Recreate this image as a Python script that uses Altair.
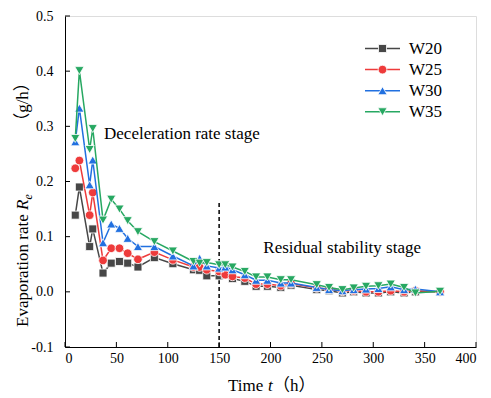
import altair as alt
import pandas as pd

# ---- data ----
t_hours = [10, 14, 24, 27, 37, 45, 53, 61, 71, 87, 105, 125, 131, 138, 150, 156,
           163, 175, 186, 197, 210, 220, 245, 257, 270, 281, 293, 305, 317, 330, 341, 365]
w20 = [0.139, 0.190, 0.082, 0.114, 0.034, 0.052, 0.055, 0.052, 0.045, 0.062, 0.051, 0.040,
       0.039, 0.029, 0.029, 0.031, 0.024, 0.019, 0.010, 0.010, 0.008, 0.012, 0.004, 0.002,
       -0.002, 0.000, -0.002, -0.002, 0.000, -0.002, 0.000, 0.000]
w25 = [0.224, 0.238, 0.139, 0.180, 0.057, 0.079, 0.079, 0.070, 0.059, 0.072, 0.058, 0.045,
       0.045, 0.040, 0.037, 0.031, 0.028, 0.025, 0.014, 0.014, 0.011, 0.015, 0.007, 0.005,
       0.001, 0.002, 0.000, 0.000, 0.002, 0.000, 0.002, 0.000]
w30 = [0.272, 0.333, 0.194, 0.239, 0.089, 0.123, 0.115, 0.097, 0.082, 0.082, 0.065, 0.047,
       0.061, 0.047, 0.043, 0.045, 0.040, 0.031, 0.021, 0.021, 0.016, 0.016, 0.008, 0.004,
       0.002, 0.004, 0.005, 0.006, 0.009, 0.004, 0.005, 0.000]
w35 = [0.278, 0.401, 0.258, 0.296, 0.130, 0.168, 0.150, 0.129, 0.109, 0.091, 0.074, 0.055,
       0.052, 0.053, 0.049, 0.049, 0.045, 0.037, 0.027, 0.027, 0.022, 0.022, 0.013, 0.008,
       0.004, 0.007, 0.010, 0.011, 0.014, 0.008, -0.002, 0.001]

series_names = ["W20", "W25", "W30", "W35"]
series_values = [w20, w25, w30, w35]
series_colors = ["#474747", "#ee3b3b", "#2170e0", "#27a862"]
series_shapes = ["square", "circle", "triangle-up", "triangle-down"]
series_sizes = [64, 75, 85, 85]

x_ticks = [0, 50, 100, 150, 200, 250, 300, 350, 400]
y_ticks = [-0.1, 0.0, 0.1, 0.2, 0.3, 0.4, 0.5]

divider_t = [150]
divider_top = [0.161]

notes = ["Deceleration rate stage", "Residual stability stage"]
note_t = [38, 193]
note_y = [0.286, 0.080]

# ---- build ----
rows = []
for name, vals in zip(series_names, series_values):
    for tt, v in zip(t_hours, vals):
        rows.append({"t": tt, "rate": v, "series": name})
df = pd.DataFrame(rows)

SERIF = "Liberation Serif"
W, H = 411, 331

xscale = alt.Scale(domain=[0, 400], nice=False, zero=False)
yscale = alt.Scale(domain=[-0.1, 0.5], nice=False, zero=False)
xaxis = alt.Axis(values=x_ticks, title=None, ticks=False, tickSize=0, grid=False,
                 labelFont=SERIF, labelFontSize=14, labelColor="black", labelPadding=4,
                 domainColor="black", domainWidth=1)
yaxis = alt.Axis(values=y_ticks, title=None, ticks=False, tickSize=0, grid=False,
                 format=".1f", labelExpr="replace(datum.label, '\u2212', '-')",
                 labelFont=SERIF, labelFontSize=14, labelColor="black", labelPadding=12,
                 domainColor="black", domainWidth=1)

X = alt.X("t:Q", scale=xscale, axis=xaxis)
Y = alt.Y("rate:Q", scale=yscale, axis=yaxis)

layers = []

# inward ticks
xt = alt.Chart(pd.DataFrame({"t": x_ticks})).mark_rule(color="black", strokeWidth=1).encode(
    x=X, y=alt.value(H), y2=alt.value(H - 5))
yt = alt.Chart(pd.DataFrame({"rate": y_ticks})).mark_rule(color="black", strokeWidth=1).encode(
    y=Y, x=alt.value(0), x2=alt.value(5))
layers += [xt, yt]

# dashed divider
div = alt.Chart(pd.DataFrame({"t": divider_t, "rate": [-0.1], "top": divider_top})).mark_rule(
    color="black", strokeWidth=1.5, strokeDash=[4, 3]).encode(
    x=X, y=Y, y2="top:Q")
layers.append(div)

# series
for name, col, shp, sz in zip(series_names, series_colors, series_shapes, series_sizes):
    base = alt.Chart(df).transform_filter(alt.datum.series == name)
    layers.append(base.mark_line(color=col, strokeWidth=1.5).encode(x=X, y=Y))
    layers.append(base.mark_point(shape=shp, filled=True, fill=col, stroke="white",
                                  strokeWidth=0.8, opacity=1, size=sz).encode(x=X, y=Y))

# stage annotations
ann = alt.Chart(pd.DataFrame({"t": note_t, "rate": note_y, "txt": notes})).mark_text(
    font=SERIF, fontSize=17, align="left", baseline="middle", color="black").encode(
    x=X, y=Y, text="txt:N")
layers.append(ann)

one = pd.DataFrame({"k": [0]})

def label(text, x, y, size=17, style="normal", angle=0, align="left", baseline="alphabetic",
          font=SERIF):
    return alt.Chart(one).mark_text(text=text, font=font, fontSize=size, fontStyle=style,
                                    angle=angle, align=align, baseline=baseline,
                                    color="black").encode(x=alt.value(x), y=alt.value(y))

# legend (manual, line + marker)
leg_y = [32.5, 53.6, 74.7, 95.8]
for name, col, shp, sz, ly in zip(series_names, series_colors, series_shapes, series_sizes, leg_y):
    layers.append(alt.Chart(one).mark_rule(color=col, strokeWidth=1.5).encode(
        x=alt.value(300), x2=alt.value(335), y=alt.value(ly)))
    layers.append(alt.Chart(one).mark_point(shape=shp, filled=True, fill=col, stroke="white",
                                            strokeWidth=0.8, opacity=1, size=sz).encode(
        x=alt.value(317.5), y=alt.value(ly)))
    layers.append(label(name, 344, ly, baseline="middle"))

CJK = "Liberation Serif, Noto Sans CJK SC"
# x title: Time t （h）
layers.append(label("Time", 163, 375))
layers.append(label("t", 203, 375, style="italic"))
layers.append(label("（h）", 208, 375, font=CJK))

# y title: Evaporation rate R_e （g/h）
layers.append(label("Evaporation rate", -37, 311, angle=270))
layers.append(label("R", -37, 194, style="italic", angle=270))
layers.append(label("e", -33, 183.5, size=12, style="italic", angle=270))
layers.append(label("（g/h）", -37, 86, angle=270, align="center", font=CJK))

chart = alt.layer(*layers).properties(
    width=W, height=H,
    autosize=alt.AutoSizeParams(type="none"),
    padding={"left": 65, "top": 16, "right": 15, "bottom": 51},
).configure_view(stroke="black", strokeWidth=1).configure(background="white")

chart.save("out.html", embed_options={"renderer": "svg", "actions": False})
